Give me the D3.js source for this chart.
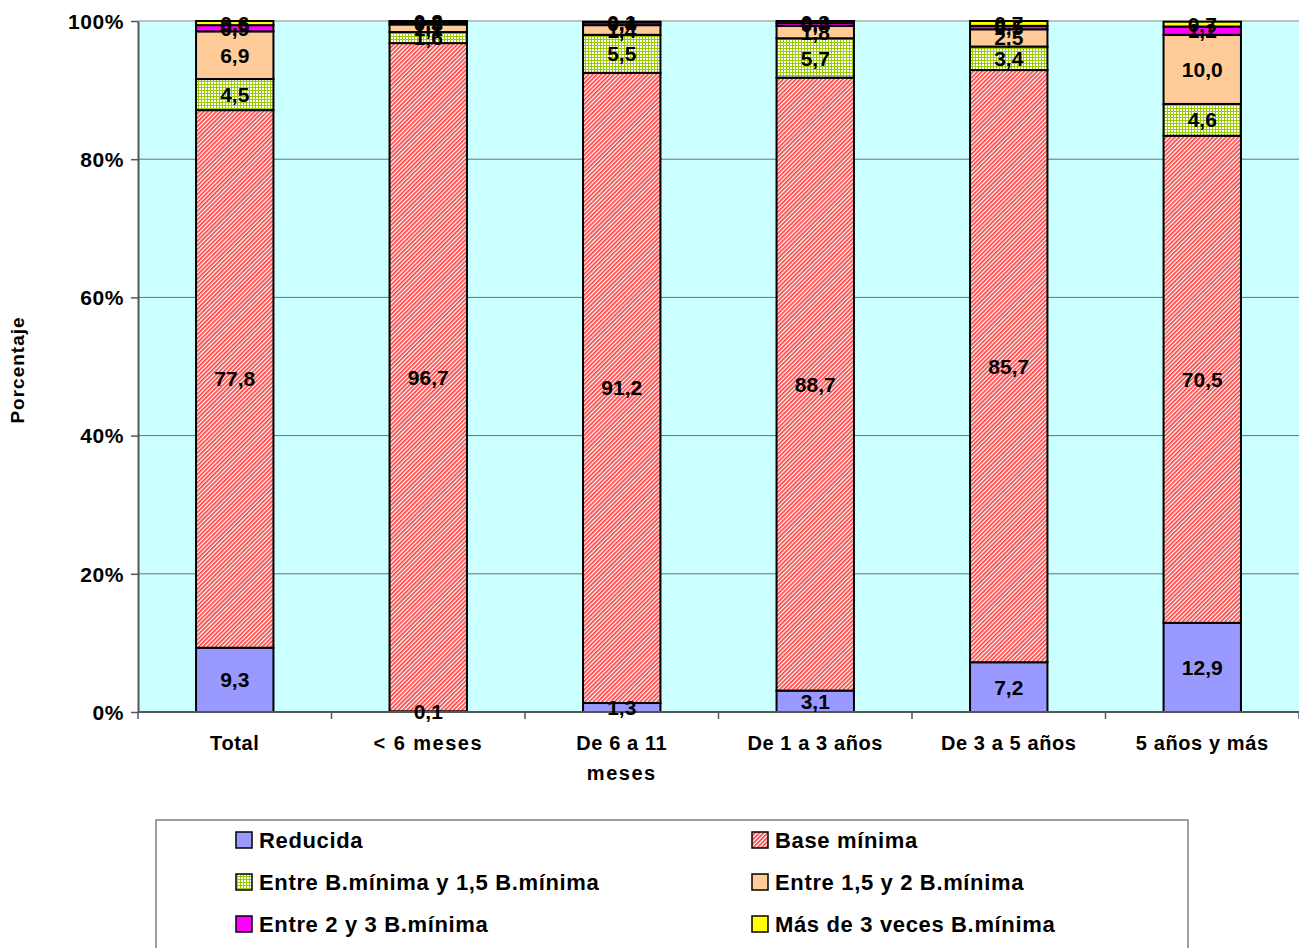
<!DOCTYPE html>
<html><head><meta charset="utf-8">
<script src="https://cdn.jsdelivr.net/npm/d3@7"></script>
<style>
body{margin:0;background:#fff;}
text{font-family:"Liberation Sans",Arial,sans-serif;font-weight:bold;}
</style></head>
<body><svg id="c" width="1299" height="948"></svg>
<script>
const categories = [["Total"],["< 6 meses"],["De 6 a 11","meses"],["De 1 a 3 años"],["De 3 a 5 años"],["5 años y más"]];
const seriesNames = ["Reducida","Base mínima","Entre B.mínima y 1,5 B.mínima","Entre 1,5 y 2 B.mínima","Entre 2 y 3 B.mínima","Más de 3 veces B.mínima"];
const reducida   = [9.3, 0.1, 1.3, 3.1, 7.2, 12.9];
const baseMinima = [77.8, 96.7, 91.2, 88.7, 85.7, 70.5];
const entreB15   = [4.5, 1.6, 5.5, 5.7, 3.4, 4.6];
const entre152   = [6.9, 1.1, 1.4, 1.8, 2.5, 10.0];
const entre23    = [0.9, 0.3, 0.4, 0.4, 0.5, 1.2];
const mas3       = [0.6, 0.2, 0.1, 0.3, 0.7, 0.7];
const yTicks = [0,20,40,60,80,100];

const series = [reducida, baseMinima, entreB15, entre152, entre23, mas3];
const fills = ["#9999ff","url(#hatchRed)","url(#gridGreen)","#ffcc99","#ff00ff","#ffff00"];

const svg = d3.select("#c");
const defs = svg.append("defs");
const pr = defs.append("pattern").attr("id","hatchRed").attr("patternUnits","userSpaceOnUse")
  .attr("width",3).attr("height",3).attr("patternTransform","rotate(-45)");
pr.append("rect").attr("width",3).attr("height",3).attr("fill","#ffffff");
pr.append("rect").attr("width",3).attr("height",1.7).attr("fill","#ff4040");
const pg = defs.append("pattern").attr("id","gridGreen").attr("patternUnits","userSpaceOnUse")
  .attr("width",3).attr("height",3);
pg.append("rect").attr("width",3).attr("height",3).attr("fill","#ffffff");
pg.append("rect").attr("width",3).attr("height",1).attr("fill","#99cc00");
pg.append("rect").attr("width",1).attr("height",3).attr("fill","#99cc00");

const L = 138, R = 1299, T = 21, B = 712;
const x = d3.scaleBand().domain(d3.range(categories.length)).range([L,R]).paddingInner(0.6).paddingOuter(0.3);
const xb = d3.scaleBand().domain(d3.range(categories.length)).range([L,R]);
const y = d3.scaleLinear().domain([0,100]).range([B,T]);

svg.append("rect").attr("x",L).attr("y",T).attr("width",R-L).attr("height",B-T).attr("fill","#ccffff");
svg.append("line").attr("x1",L).attr("x2",R).attr("y1",T).attr("y2",T).attr("stroke","#c0c0c0").attr("stroke-width",2);

svg.append("g").selectAll("line").data(yTicks.filter(d=>d>0&&d<100)).join("line")
  .attr("x1",L).attr("x2",R).attr("y1",d=>y(d)).attr("y2",d=>y(d))
  .attr("stroke","#6e6e6e").attr("stroke-width",1);

const ya = svg.append("g").attr("transform",`translate(${L},0)`)
  .call(d3.axisLeft(y).tickValues(yTicks).tickFormat(d=>d+"%").tickSize(7).tickSizeOuter(0));
ya.select(".domain").attr("stroke","#555").attr("stroke-width",2);
ya.selectAll(".tick line").attr("stroke","#555").attr("stroke-width",1.5);
ya.selectAll(".tick text").attr("font-size",21).attr("font-family","Liberation Sans, Arial, sans-serif")
  .attr("font-weight","bold").attr("fill","#000").attr("dx",-4).attr("dy","0.35em")
  .attr("letter-spacing","0.6px");

const stackData = categories.map((c,i)=>{
  let acc=0; return series.map((s,k)=>{const y0=acc; acc+=s[i]; return {i,k,v:s[i],y0,y1:acc};});
});

const gBars = svg.append("g");
stackData.forEach(segs=>{
  gBars.selectAll(null).data(segs).join("rect")
    .attr("x",d=>x(d.i)).attr("width",x.bandwidth())
    .attr("y",d=>y(d.y1)).attr("height",d=>y(d.y0)-y(d.y1))
    .attr("fill",d=>fills[d.k]).attr("stroke","#000").attr("stroke-width",2);
});

const xa = svg.append("g").attr("transform",`translate(0,${B})`);
xa.append("line").attr("x1",L).attr("x2",R).attr("y1",0).attr("y2",0).attr("stroke","#555").attr("stroke-width",2);
xa.selectAll("line.tk").data(d3.range(categories.length+1)).join("line").attr("class","tk")
  .attr("x1",d=>L+d*xb.step()).attr("x2",d=>L+d*xb.step()).attr("y1",0).attr("y2",7)
  .attr("stroke","#555").attr("stroke-width",1.5);
categories.forEach((lines,i)=>{
  const t = svg.append("text").attr("x",xb(i)+xb.bandwidth()/2).attr("y",750)
    .attr("text-anchor","middle").attr("font-size",20).attr("fill","#000");
  lines.forEach((ln,j)=>{
    t.append("tspan").attr("x",xb(i)+xb.bandwidth()/2).attr("dy",j?30:0)
      .attr("letter-spacing",ln.includes("meses")?"1.5px":"0.6px").text(ln);
  });
});

const gLab = svg.append("g");
stackData.forEach(segs=>{
  gLab.selectAll(null).data(segs).join("text")
    .attr("x",d=>x(d.i)+x.bandwidth()/2)
    .attr("y",d=>(y(d.y0)+y(d.y1))/2).attr("dy","0.36em")
    .attr("text-anchor","middle").attr("font-size",21).attr("fill","#000")
    .text(d=>d3.format(".1f")(d.v).replace(".",","));
});

svg.append("text").attr("transform","translate(24,370) rotate(-90)").attr("text-anchor","middle")
  .attr("font-size",19).attr("letter-spacing","1px").attr("fill","#000").text("Porcentaje");

svg.append("rect").attr("x",156).attr("y",820).attr("width",1032).attr("height",140)
  .attr("fill","#fff").attr("stroke","#808080").attr("stroke-width",1.5);
const legPos = [[236,840],[752,840],[236,882],[752,882],[236,924],[752,924]];
const gl = svg.append("g");
gl.selectAll("rect").data(seriesNames).join("rect")
  .attr("x",(d,i)=>legPos[i][0]).attr("y",(d,i)=>legPos[i][1]-8).attr("width",16).attr("height",16)
  .attr("fill",(d,i)=>fills[i]).attr("stroke","#000").attr("stroke-width",1.5);
gl.selectAll("text").data(seriesNames).join("text")
  .attr("x",(d,i)=>legPos[i][0]+23).attr("y",(d,i)=>legPos[i][1]).attr("dy","0.36em")
  .attr("font-size",22).attr("letter-spacing","0.65px").attr("fill","#000").text(d=>d);
</script></body></html>
